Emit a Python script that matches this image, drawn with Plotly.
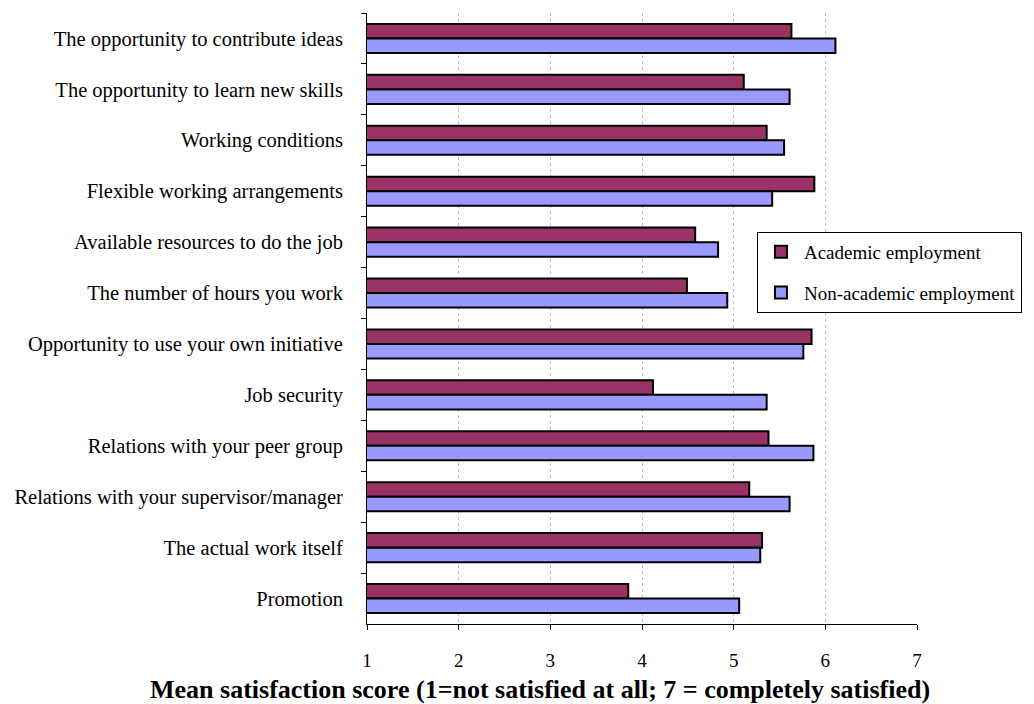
import plotly.graph_objects as go

categories = [
    "The opportunity to contribute ideas",
    "The opportunity to learn new skills",
    "Working conditions",
    "Flexible working arrangements",
    "Available resources to do the job",
    "The number of hours you work",
    "Opportunity to use your own initiative",
    "Job security",
    "Relations with your peer group",
    "Relations with your supervisor/manager",
    "The actual work itself",
    "Promotion",
]
academic = [5.63, 5.11, 5.36, 5.88, 4.58, 4.49, 5.85, 4.12, 5.38, 5.17, 5.31, 3.85]
non_academic = [6.11, 5.61, 5.55, 5.42, 4.83, 4.93, 5.76, 5.36, 5.87, 5.61, 5.29, 5.06]
x_ticks = [1, 2, 3, 4, 5, 6, 7]
x_title = "Mean satisfaction score (1=not satisfied at all; 7 = completely satisfied)"

FONT = "Liberation Serif"

fig = go.Figure()
fig.add_trace(go.Bar(
    y=categories, x=academic, orientation="h", name="Academic employment",
    marker=dict(color="#993366", line=dict(color="black", width=2)),
    legendgroup="a",
))
fig.add_trace(go.Bar(
    y=categories, x=non_academic, orientation="h", name="Non-academic employment",
    marker=dict(color="#9999FF", line=dict(color="black", width=2)),
    legendgroup="b",
))

fig.update_layout(
    width=1034, height=704,
    margin=dict(l=367, r=117, t=13, b=80, autoexpand=False),
    plot_bgcolor="white", paper_bgcolor="white",
    barmode="group", bargap=0.43, bargroupgap=0,
    font=dict(family=FONT, size=19, color="black"),
    showlegend=True,
    legend=dict(
        x=0.709, y=0.6416, xanchor="left", yanchor="top",
        bordercolor="black", borderwidth=1, bgcolor="white",
        font=dict(family=FONT, size=19),
        traceorder="grouped", tracegroupgap=13,
        itemwidth=36,
    ),
    annotations=[dict(
        text="<b>" + x_title + "</b>",
        xref="paper", yref="paper", x=0.3145, y=-0.107,
        xanchor="center", yanchor="middle", showarrow=False,
        font=dict(family=FONT, size=26),
    )],
)
fig.update_xaxes(
    range=[1, 7], tickvals=x_ticks, ticktext=[str(t) for t in x_ticks],
    showline=True, linecolor="black", linewidth=1,
    ticks="outside", ticklen=5, tickcolor="black",
    ticklabelstandoff=14,
    showgrid=True, gridcolor="#c0c0c0", griddash="dot", gridwidth=1,
    zeroline=False,
    tickfont=dict(family=FONT, size=19),
)
fig.update_yaxes(
    autorange="reversed", type="category",
    showline=True, linecolor="black", linewidth=1,
    ticks="outside", ticklen=5, tickcolor="black", tickson="boundaries",
    ticklabelstandoff=19,
    showgrid=False,
    tickfont=dict(family=FONT, size=20.5),
)

fig.write_html("out.html", config={"displayModeBar": False},
               post_script="document.body.style.margin='0';")
